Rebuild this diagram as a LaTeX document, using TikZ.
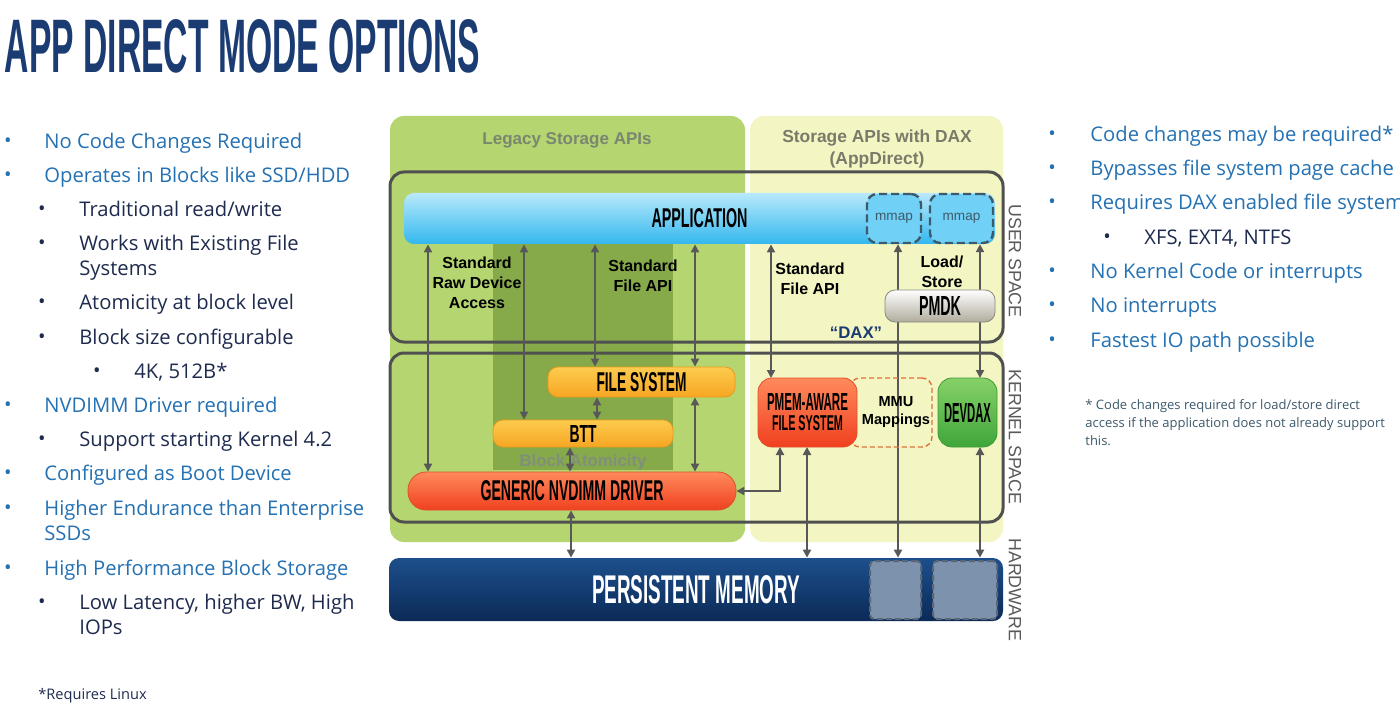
\documentclass[tikz,border=0pt]{standalone}
\usepackage{fontspec}
\setmainfont{Open Sans}
\newfontfamily\arialf{Liberation Sans}
\usetikzlibrary{arrows.meta}

\definecolor{titlenavy}{HTML}{1B3C73}
\definecolor{bulletblue}{HTML}{2471B3}
\definecolor{subnavy}{HTML}{1E2B4F}
\definecolor{legacygreen}{HTML}{B5D570}
\definecolor{columngreen}{HTML}{86AA4A}
\definecolor{daxyellow}{HTML}{F3F6C3}
\definecolor{framegray}{HTML}{505050}
\definecolor{arrowgray}{HTML}{585858}
\definecolor{labelgray}{HTML}{5A5A5A}
\definecolor{appcyan}{HTML}{9BE0FA}
\definecolor{appblue}{HTML}{33B7EE}
\definecolor{orangeedge}{HTML}{E89A1C}
\definecolor{orangetop}{HTML}{FDCB4E}
\definecolor{orangebot}{HTML}{F6A623}
\definecolor{rededge}{HTML}{E0502A}
\definecolor{redtop}{HTML}{FF8A5C}
\definecolor{redbot}{HTML}{F0401F}
\definecolor{slate}{HTML}{3D5A6B}
\definecolor{legacytext}{HTML}{7A8670}
\definecolor{daxtext}{HTML}{7A7A6A}
\definecolor{atomtext}{HTML}{7F8F7A}
\definecolor{pmtop}{HTML}{1D4F8C}
\definecolor{pmbot}{HTML}{0B2A57}
\definecolor{pmslot}{HTML}{7D93AD}
\definecolor{pmslotedge}{HTML}{5A6575}
\definecolor{mmuedge}{HTML}{E0703C}
\definecolor{greenedge}{HTML}{3E9A36}
\definecolor{greentop}{HTML}{86D168}
\definecolor{greenbot}{HTML}{3FA63A}
\definecolor{pmdkedge}{HTML}{8A887C}
\definecolor{pmdkbot}{HTML}{B0AC9C}

% condensed caps labels
\newcommand{\cnd}[3]{\resizebox{#1}{#2}{\arialf\bfseries #3}}

\tikzstyle{frame}=[draw=framegray,line width=1.5pt,rounded corners=7pt]
\tikzstyle{block}=[inner sep=0pt,rounded corners=5pt]
\tikzstyle{appbox}=[block,top color=appcyan!70!white,bottom color=appblue]
\tikzstyle{orangebox}=[block,draw=orangeedge,top color=orangetop,bottom color=orangebot]
\tikzstyle{redbox}=[block,rounded corners=7pt,draw=rededge,top color=redtop,bottom color=redbot]
\tikzstyle{dashbox}=[block,draw=slate,line width=1.2pt,dash pattern=on 4pt off 2pt]
\tikzstyle{slot}=[block,rounded corners=2pt,fill=pmslot,draw=pmslotedge,line width=1pt,dash pattern=on 3pt off 1.5pt]
\tikzstyle{arr}=[arrowgray,line width=1pt,{Triangle[length=4pt,width=4pt]}-{Triangle[length=4pt,width=4pt]}]
\tikzstyle{lbl}=[inner sep=0pt,align=center,font=\arialf\bfseries\fontsize{8}{10}\selectfont]
\tikzstyle{side}=[inner sep=0pt,rotate=-90,text=labelgray,font=\arialf\fontsize{8.9}{10}\selectfont]
\tikzstyle{topitem}=[anchor=mid west,inner sep=0pt,yshift=-1pt,text=bulletblue,font=\fontsize{10.1}{12}\selectfont]
\tikzstyle{subitem}=[topitem,text=subnavy]
\tikzstyle{topdot}=[inner sep=0pt,yshift=-1pt,text=bulletblue,font=\fontsize{10}{12}\selectfont]
\tikzstyle{subdot}=[topdot,text=subnavy]

\begin{document}
\begin{tikzpicture}[x=0.5pt,y=-0.5pt]
    \useasboundingbox (0,0) rectangle (1400,705);
    \fill[white] (0,0) rectangle (1400,705);
    \clip (0,0) rectangle (1400,705);

    \node (title)[inner sep=0pt,text=titlenavy] at (242.5,46.5) {\cnd{237.5pt}{26.5pt}{APP DIRECT MODE OPTIONS}};

    % left list
    \node (d1)[topdot] at (8,141) {•};
    \node (t1)[topitem] at (44,141) {No Code Changes Required};
    \node (d2)[topdot] at (8,175) {•};
    \node (t2)[topitem] at (44,175) {Operates in Blocks like SSD/HDD};
    \node (d3)[subdot] at (42,209) {•};
    \node (t3)[subitem] at (79,209) {Traditional read/write};
    \node (d4)[subdot] at (42,243) {•};
    \node (t4)[subitem] at (79,243) {Works with Existing File};
    \node (t4b)[subitem] at (79,268) {Systems};
    \node (d5)[subdot] at (42,302) {•};
    \node (t5)[subitem] at (79,302) {Atomicity at block level};
    \node (d6)[subdot] at (42,337) {•};
    \node (t6)[subitem] at (79,337) {Block size configurable};
    \node (d7)[subdot] at (97,371) {•};
    \node (t7)[subitem] at (134,371) {4K, 512B*};
    \node (d8)[topdot] at (8,405) {•};
    \node (t8)[topitem] at (44,405) {NVDIMM Driver required};
    \node (d9)[subdot] at (42,439) {•};
    \node (t9)[subitem] at (79,439) {Support starting Kernel 4.2};
    \node (d10)[topdot] at (8,473) {•};
    \node (t10)[topitem] at (44,473) {Configured as Boot Device};
    \node (d11)[topdot] at (8,508) {•};
    \node (t11)[topitem] at (44,508) {Higher Endurance than Enterprise};
    \node (t11b)[topitem] at (44,533) {SSDs};
    \node (d12)[topdot] at (8,568) {•};
    \node (t12)[topitem] at (44,568) {High Performance Block Storage};
    \node (d13)[subdot] at (42,602) {•};
    \node (t13)[subitem] at (79,602) {Low Latency, higher BW, High};
    \node (t13b)[subitem] at (79,627) {IOPs};
    \node (linuxnote)[subitem,font=\fontsize{7.3}{9}\selectfont] at (38,692) {*Requires Linux};

    % right list
    \node (r1d)[topdot] at (1052,134) {•};
    \node (r1)[topitem] at (1090,134) {Code changes may be required*};
    \node (r2d)[topdot] at (1052,168) {•};
    \node (r2)[topitem] at (1090,168) {Bypasses file system page cache};
    \node (r3d)[topdot] at (1052,202) {•};
    \node (r3)[topitem] at (1090,202) {Requires DAX enabled file system};
    \node (r4d)[subdot] at (1107,237) {•};
    \node (r4)[subitem] at (1144,237) {XFS, EXT4, NTFS};
    \node (r5d)[topdot] at (1052,271) {•};
    \node (r5)[topitem] at (1090,271) {No Kernel Code or interrupts};
    \node (r6d)[topdot] at (1052,305) {•};
    \node (r6)[topitem] at (1090,305) {No interrupts};
    \node (r7d)[topdot] at (1052,340) {•};
    \node (r7)[topitem] at (1090,340) {Fastest IO path possible};
    \node (daxnote)[topitem,text=slate,font=\fontsize{6.5}{9}\selectfont,align=left,anchor=north west] at (1085,397)
        {* Code changes required for load/store direct\\access if the application does not already support\\this.};

    % regions and frames
    \fill[legacygreen,rounded corners=7pt] (390,116) rectangle (745,542);
    \fill[daxyellow,rounded corners=7pt] (750,116) rectangle (1003,542);
    \fill[columngreen] (493,240) rectangle (673,470);
    \draw[frame] (390,172) rectangle (1003,342);
    \draw[frame] (390,353) rectangle (1003,522);

    \node (legacy)[lbl,text=legacytext,font=\arialf\bfseries\fontsize{8.5}{10}\selectfont] at (567,140) {Legacy Storage APIs};
    \node (daxapi)[lbl,text=daxtext,font=\arialf\bfseries\fontsize{8.7}{11}\selectfont] at (877,149) {Storage APIs with DAX\\(AppDirect)};

    % boxes
    \node (app)[appbox,minimum width=295.5pt,minimum height=25.5pt] at (699.5,218.5) {\cnd{48pt}{9.5pt}{APPLICATION}};
    \node (mmapA)[dashbox,fill=appcyan!60!appblue,minimum width=27pt,minimum height=24.5pt,font=\arialf\fontsize{6.8}{8}\selectfont,text=slate] at (894,218.5) {mmap};
    \node (mmapB)[dashbox,fill=appcyan!60!appblue,minimum width=31.5pt,minimum height=24.5pt,font=\arialf\fontsize{6.8}{8}\selectfont,text=slate] at (961.5,218.5) {mmap};
    \node (fs)[orangebox,minimum width=93.5pt,minimum height=15pt] at (641.5,382) {\cnd{45pt}{9.5pt}{FILE SYSTEM}};
    \node (btt)[orangebox,minimum width=90pt,minimum height=13.5pt] at (583,433.5) {\cnd{13.5pt}{8.5pt}{BTT}};
    \node (atom)[lbl,text=atomtext,font=\arialf\bfseries\fontsize{8.4}{10}\selectfont] at (583,462) {Block Atomicity};
    \node (drv)[redbox,rounded corners=9pt,minimum width=164pt,minimum height=19pt] at (572,491) {\cnd{91.5pt}{10pt}{GENERIC NVDIMM DRIVER}};
    \node (pm)[block,top color=pmtop,bottom color=pmbot,text=white,minimum width=307pt,minimum height=31.5pt] at (696,589.5) {\raisebox{-2pt}{\cnd{104pt}{14pt}{PERSISTENT MEMORY}}};
    \node (pmA)[slot,minimum width=25.5pt,minimum height=29pt] at (895.5,590) {};
    \node (pmB)[slot,minimum width=32pt,minimum height=29pt] at (965,590) {};

    % connectors
    \draw[arr] (app.south -| 428,0) -- (drv.north -| 428,0);
    \draw[arr] (app.south -| 524,0) -- (btt.north -| 524,0);
    \draw[arr] (app.south -| 595,0) -- (fs.north -| 595,0);
    \draw[arr] (app.south -| 695,0) -- (fs.north -| 695,0);
    \draw[arr] (fs.south -| 695,0) -- (drv.north -| 695,0);
    \draw[arr] (fs.south -| 597,0) -- (btt.north -| 597,0);
    \draw[arr] (btt.south -| 570,0) -- (drv.north -| 570,0);
    \draw[arr] (drv.south -| 571,0) -- (pm.north -| 571,0);
    \draw[arr] (app.south -| 771,0) -- (771,378);
    \draw[arr] (drv.east) -| (780,447);
    \draw[arr] (807,447) -- (pm.north -| 807,0);
    \draw[arr] (mmapA.south -| 898,0) -- (pm.north -| 898,0);
    \draw[arr] (mmapB.south -| 980,0) -- (980,378);
    \draw[arr] (980,447) -- (pm.north -| 980,0);

    \node (mmu)[block,draw=mmuedge,dash pattern=on 2.5pt off 1.5pt,line width=0.7pt,minimum width=41pt,minimum height=34.5pt,lbl,font=\arialf\bfseries\fontsize{7.3}{9}\selectfont] at (891,412.5) {\hspace*{5pt}MMU\\\hspace*{5pt}Mappings};
    \node (pmfs)[redbox,minimum width=49.5pt,minimum height=34.5pt,align=center,font=\fontsize{8}{10}\selectfont] at (807.5,412.5) {\cnd{40.5pt}{8.5pt}{PMEM-AWARE}\\\cnd{35.5pt}{7.5pt}{FILE SYSTEM}};
    \node (devdax)[block,rounded corners=7pt,draw=greenedge,top color=greentop,bottom color=greenbot,minimum width=29.5pt,minimum height=34.5pt] at (967.5,412.5) {\cnd{23.5pt}{9.5pt}{DEVDAX}};
    \node (pmdk)[block,draw=pmdkedge,top color=white,bottom color=pmdkbot,minimum width=55pt,minimum height=16pt] at (940,306) {\cnd{21pt}{9.5pt}{PMDK}};

    % labels on the paths
    \node (rawapi)[lbl] at (477,283) {Standard\\Raw Device\\Access};
    \node (fileapi)[lbl] at (643,276) {Standard\\File API};
    \node (daxfileapi)[lbl] at (810,279) {Standard\\File API};
    \node (loadstore)[lbl] at (942,272) {Load/\\Store};
    \node (dax)[lbl,text=titlenavy,font=\arialf\bfseries\fontsize{8.4}{10}\selectfont] at (856,333) {“DAX”};

    \node (userspace)[side] at (1015,261) {USER SPACE};
    \node (kernelspace)[side] at (1015,437) {KERNEL SPACE};
    \node (hardware)[side] at (1015,590) {HARDWARE};
\end{tikzpicture}
\end{document}
